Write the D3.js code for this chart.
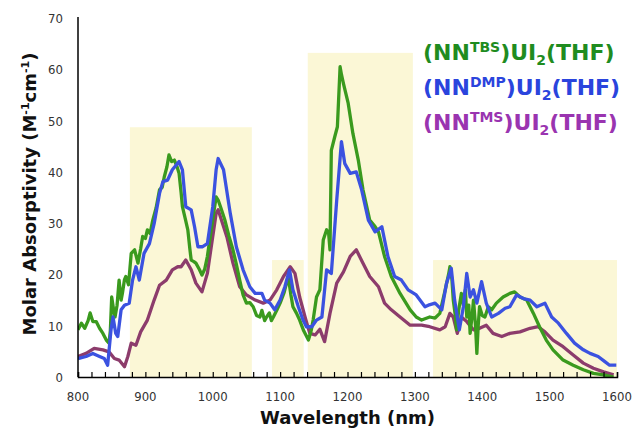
<!DOCTYPE html>
<html><head><meta charset="utf-8">
<script src="https://cdn.jsdelivr.net/npm/d3@7"></script>
<style>body{margin:0;background:#fff}svg{display:block}</style>
</head><body><div id="chart"></div>
<script>
// ---- data ----
const xTicks = [800, 900, 1000, 1100, 1200, 1300, 1400, 1500, 1600];
const yTicks = [0, 10, 20, 30, 40, 50, 60, 70];
const bands = [[877, 1058, 48.7], [1088, 1135, 22.8], [1141, 1297, 63.2], [1327, 1600, 22.8]];
const seriesNames = ["TBS", "DMP", "TMS"];

const tbsData = [[800,9.2],[805,10.5],[810,9.5],[815,11],[818,12.5],[822,10.8],[827,10.8],[832,9.5],[837,8.5],[842,7.2],[846,6.6],[848,9],[850,15.6],[853,13],[855,11.7],[858,14],[861,18.9],[864,15],[866,16.4],[869,19],[871,19.6],[875,18],[879,24.1],[884,24.8],[889,22.2],[893,25],[896,27.4],[900,27],[903,28.7],[907,28],[911,30.6],[916,33],[921,36.5],[925,37],[928,39],[932,41],[935,43.3],[939,42],[943,42.3],[947,41],[950,39.7],[953,36],[955,33.2],[959,31],[963,28.7],[966,25],[968,22.8],[972,22.5],[975,22.2],[980,21],[984,19.9],[988,21],[992,23.5],[998,29],[1005,35.1],[1008,34.5],[1012,33],[1018,30.6],[1024,27.5],[1030,24.8],[1035,22],[1040,18.9],[1045,16],[1050,14.4],[1055,14.5],[1060,13.7],[1065,12],[1070,11.7],[1073,13],[1077,11],[1080,11.7],[1084,12.5],[1087,11],[1090,11.7],[1095,13],[1100,14.4],[1106,16.5],[1112,19.6],[1116,16],[1119,13.7],[1124,12.5],[1129,11.1],[1135,9],[1142,7.2],[1146,9],[1149,11.1],[1154,15.6],[1159,17],[1164,26.7],[1169,28.7],[1172,28],[1174,24.8],[1176,44.2],[1181,46.8],[1185,48.8],[1189,60.5],[1191,59],[1194,57.2],[1201,53.4],[1208,47.5],[1216,42.3],[1223,36.5],[1233,30.6],[1240,29.5],[1246,28.3],[1255,23.5],[1265,19.6],[1278,16.3],[1293,13.1],[1302,11.7],[1310,11.1],[1322,11.7],[1330,11.5],[1337,12.4],[1345,17],[1350,20],[1352,21.5],[1355,19],[1357,15],[1360,12],[1362,9.2],[1365,13],[1369,16.3],[1372,14],[1375,17],[1377,11.7],[1380,14],[1382,8.5],[1385,12],[1387,15],[1390,10],[1392,4.6],[1394,10],[1396,13.7],[1400,12],[1404,11.7],[1409,13.7],[1414,13.1],[1421,14.4],[1431,15.6],[1441,16.3],[1448,16.6],[1456,15.6],[1466,15],[1476,12.4],[1485,9.8],[1495,7.2],[1505,5.3],[1520,3.3],[1535,2.3],[1550,1.4],[1565,0.7],[1580,0.4],[1595,0]];

const dmpData = [[800,3.6],[812,4.0],[822,4.6],[832,4.0],[839,3.6],[844,2.3],[849,9.2],[852,11.7],[856,8.5],[859,7.9],[864,13.1],[869,14],[876,14.4],[881,18.9],[886,21.5],[891,18.9],[898,24.1],[906,26],[913,29.9],[921,35.8],[926,38.1],[933,38.4],[940,40.4],[950,42],[955,40.4],[960,33.2],[968,32.6],[973,29.3],[978,25.4],[985,25.4],[992,26],[1000,33.2],[1005,40.4],[1008,42.6],[1016,40.4],[1026,31.9],[1035,25.4],[1045,20.9],[1055,17.6],[1063,16.3],[1073,16.3],[1077,15],[1085,14.4],[1092,13.1],[1100,15],[1107,17.6],[1114,20.9],[1119,17],[1127,13.7],[1134,11.1],[1139,9.8],[1147,9.8],[1154,11.1],[1162,11.7],[1169,20.9],[1176,20.2],[1184,34.5],[1191,45.9],[1196,41.6],[1204,39.7],[1213,40],[1221,36.5],[1231,30.6],[1241,28.3],[1251,29.3],[1260,23.5],[1270,19.6],[1280,18.9],[1290,17],[1302,16],[1315,13.7],[1320,14],[1330,14.4],[1340,13.1],[1347,18.3],[1354,21.2],[1359,15],[1366,9.2],[1372,13.7],[1377,20.2],[1382,15.6],[1387,17],[1392,14.4],[1399,18.6],[1406,14.4],[1414,11.7],[1424,12.4],[1434,13.4],[1441,13.7],[1451,16],[1461,15.3],[1471,15],[1481,13.7],[1493,14.4],[1503,11.7],[1513,10.5],[1525,8.5],[1537,6.6],[1550,5.3],[1560,4.6],[1572,4],[1582,3],[1589,2.3],[1599,2.3]];

const tmsData = [[800,4],[812,4.6],[824,5.6],[837,5.3],[846,4.9],[854,3.6],[861,3.3],[869,2],[874,4],[879,6.6],[886,6.2],[893,8.8],[903,11.1],[913,15],[921,17.9],[931,18.9],[940,20.9],[948,21.5],[953,21.5],[960,22.8],[968,20.9],[975,18.3],[984,16.6],[992,20.2],[1005,31.9],[1008,32.6],[1021,27.3],[1030,22.2],[1040,17.6],[1050,16],[1063,15],[1075,14.4],[1085,15],[1095,17],[1105,19.6],[1115,21.5],[1122,20.2],[1129,15.6],[1137,11.7],[1144,8.5],[1152,8.2],[1159,9.3],[1166,6.9],[1174,12.4],[1184,18.3],[1194,20.5],[1204,23.5],[1213,24.8],[1223,22.2],[1233,19.6],[1246,17.6],[1255,14.4],[1265,13.1],[1278,11.7],[1293,10.1],[1310,10.1],[1322,9.8],[1337,9.2],[1345,9.8],[1352,12.4],[1357,11.7],[1363,8.5],[1369,11.7],[1377,10.8],[1387,9.2],[1396,9.5],[1406,10.1],[1416,8.5],[1429,7.9],[1441,8.5],[1456,8.8],[1471,9.5],[1483,9.8],[1493,8.8],[1505,7.2],[1520,5.9],[1535,4.3],[1550,2.7],[1565,1.7],[1580,1],[1595,0.4]];

const lineColors = ["#3a9a1e", "#3b52e0", "#8c3c6c"];
const legendColors = ["#1f8c1f", "#2a44dd", "#9a34b0"];

// ---- chart ----
const W = 632, H = 432;
const svg = d3.select("#chart").append("svg").attr("width", W).attr("height", H)
  .style("font-family", "'DejaVu Sans', Verdana, sans-serif");

const x = d3.scaleLinear().domain([800, 1600]).range([78, 617]);
const y = d3.scaleLinear().domain([0, 70]).range([377, 18]);

svg.append("defs").append("clipPath").attr("id", "clip")
  .append("rect").attr("x", 78).attr("y", 0).attr("width", 539).attr("height", 377);

// shaded bands
svg.append("g").selectAll("rect").data(bands).join("rect")
  .attr("x", d => x(d[0])).attr("width", d => x(d[1]) - x(d[0]))
  .attr("y", d => y(d[2])).attr("height", d => y(0) - y(d[2]))
  .attr("fill", "#fbf7d6");

// lines
const line = d3.line().x(d => x(d[0])).y(d => y(d[1]));
const g = svg.append("g").attr("clip-path", "url(#clip)");
[tmsData, tbsData, dmpData].forEach((data, i) => {
  const ci = [2, 0, 1][i];
  g.append("path").datum(data).attr("d", line)
    .attr("fill", "none").attr("stroke", lineColors[ci])
    .attr("stroke-width", 3.3).attr("stroke-linejoin", "round");
});

// x axis
const xAxis = d3.axisBottom(x).tickValues(d3.range(800, 1601, 20)).tickSize(-5).tickFormat("");
const gx = svg.append("g").attr("transform", "translate(0,377)").call(xAxis);
gx.select(".domain").attr("stroke", "#000").attr("stroke-width", 1.5);
gx.selectAll(".tick line").attr("stroke", "#000").attr("stroke-width", 1.2);
svg.append("g").selectAll("text").data(xTicks).join("text")
  .attr("x", d => x(d)).attr("y", 401).attr("text-anchor", "middle")
  .style("font-family", "'DejaVu Sans Condensed', 'DejaVu Sans', sans-serif")
  .attr("font-size", 13).attr("fill", "#333").text(d => d);

// y axis
svg.append("line").attr("x1", 78).attr("x2", 78).attr("y1", y(70) - 1).attr("y2", 377)
  .attr("stroke", "#000").attr("stroke-width", 1.5);
svg.append("g").selectAll("text").data(yTicks).join("text")
  .attr("x", 63).attr("y", d => y(d) + 5).attr("text-anchor", "end")
  .style("font-family", "'DejaVu Sans Condensed', 'DejaVu Sans', sans-serif")
  .attr("font-size", 13).attr("fill", "#333").text(d => d);

// axis titles
svg.append("text").attr("x", (78 + 617) / 2).attr("y", 424).attr("text-anchor", "middle")
  .attr("font-size", 18).attr("font-weight", "bold").attr("fill", "#111").text("Wavelength (nm)");

const yt = svg.append("text").attr("transform", "translate(36,194) rotate(-90)")
  .attr("text-anchor", "middle").attr("font-size", 18).attr("font-weight", "bold").attr("fill", "#111");
yt.append("tspan").text("Molar Absorptivity (M");
yt.append("tspan").attr("font-size", 11).attr("dy", -7).text("-1");
yt.append("tspan").attr("dy", 7).text("cm");
yt.append("tspan").attr("font-size", 11).attr("dy", -7).text("-1");
yt.append("tspan").attr("dy", 7).text(")");

// legend
const legY = [60, 95, 130];
seriesNames.forEach((n, i) => {
  const t = svg.append("text").attr("x", 423).attr("y", legY[i])
    .attr("font-size", 22).attr("font-weight", "bold").attr("fill", legendColors[i]);
  t.append("tspan").text("(NN");
  t.append("tspan").attr("font-size", 14).attr("dy", -8).text(n);
  t.append("tspan").attr("dy", 8).text(")UI");
  t.append("tspan").attr("font-size", 14).attr("dy", 5).text("2");
  t.append("tspan").attr("dy", -5).text("(THF)");
});
</script></body></html>
